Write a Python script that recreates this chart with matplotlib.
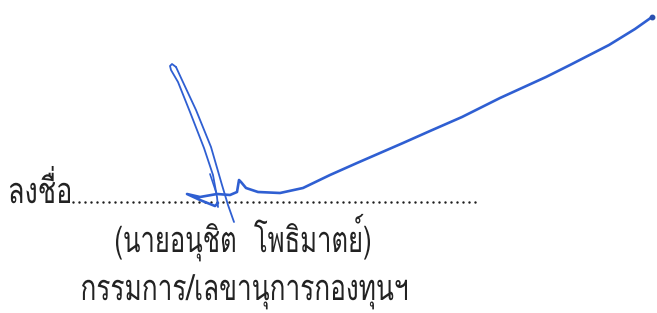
import matplotlib
matplotlib.use("Agg")
import matplotlib.pyplot as plt
from matplotlib import font_manager
from matplotlib.ft2font import FT2Font
from matplotlib.textpath import TextPath
from matplotlib.font_manager import FontProperties
from matplotlib.patches import PathPatch
from matplotlib.transforms import Affine2D

# text lines: string, ink left, ink right, baseline (pixels)
line1 = "ลงชื่อ"
line2 = "(นายอนุชิต  โพธิมาตย์)"
line3 = "กรรมการ/เลขานุการกองทุนฯ"
lines = [(line1, 10, 70, 203), (line2, 116, 370, 252), (line3, 82, 407, 300)]

# signature strokes, pixel coords
loop_left_x = [218, 217, 213, 204, 190, 178, 171, 170, 172, 176]
loop_left_y = [207, 197, 175, 148, 112, 82, 70, 66, 64, 67]
loop_right_x = [176, 182, 196, 211, 222, 228, 234]
loop_right_y = [67, 80, 110, 147, 185, 205, 222]

tail_x = [218, 215, 200, 187, 200, 217, 230, 237, 239, 241, 246, 258, 280, 303,
          330, 357, 380, 403, 430, 462, 500, 546, 570, 609, 635, 652]
tail_y = [203, 206, 200, 194, 197, 194, 195, 192, 180, 182, 188, 192, 193, 188,
          175, 163, 153, 143, 131, 117, 98, 77, 65, 45, 29, 17]

tick_x = [210, 216]
tick_y = [174, 192]

dots_x0, dots_x1, dots_step, dots_y = 73, 478, 6.0, 202


def thai_font():
    for f in font_manager.fontManager.ttflist:
        try:
            if 0x0E01 in FT2Font(f.fname).get_charmap():
                return f.name
        except Exception:
            pass
    return "DejaVu Sans"


fp = FontProperties(family=[thai_font(), "DejaVu Sans"])

fig = plt.figure(figsize=(6.57, 3.13), dpi=100)
ax = fig.add_axes([0, 0, 1, 1])
ax.set_xlim(0, 657)
ax.set_ylim(313, 0)
ax.axis("off")

# text squeezed to the narrow face of the original
for s, x0, x1, base in lines:
    tp = TextPath((0, 0), s, size=36, prop=fp)
    ext = tp.get_extents()
    sx = (x1 - x0) / ext.width
    tr = Affine2D().translate(-ext.x0, 0).scale(sx, -1).translate(x0, base)
    ax.add_patch(PathPatch(tr.transform_path(tp), fc="#222222", lw=0))

xs = []
x = dots_x0
while x <= dots_x1:
    xs.append(x)
    x += dots_step
ax.scatter(xs, [dots_y] * len(xs), s=3, color="#1e1e1e", linewidths=0)

blue = "#2f5fd2"
ax.plot(loop_left_x, loop_left_y, color=blue, lw=1.3, solid_capstyle="round", solid_joinstyle="round")
ax.plot(loop_right_x, loop_right_y, color=blue, lw=1.3, solid_capstyle="round", solid_joinstyle="round")
ax.plot(tail_x, tail_y, color=blue, lw=1.9, solid_capstyle="round", solid_joinstyle="round")
ax.plot(tick_x, tick_y, color=blue, lw=1.2, solid_capstyle="round")
ax.plot(tail_x[-1:], tail_y[-1:], "o", color="#2a50b0", ms=3.2)

fig.savefig("out.png", dpi=100)
